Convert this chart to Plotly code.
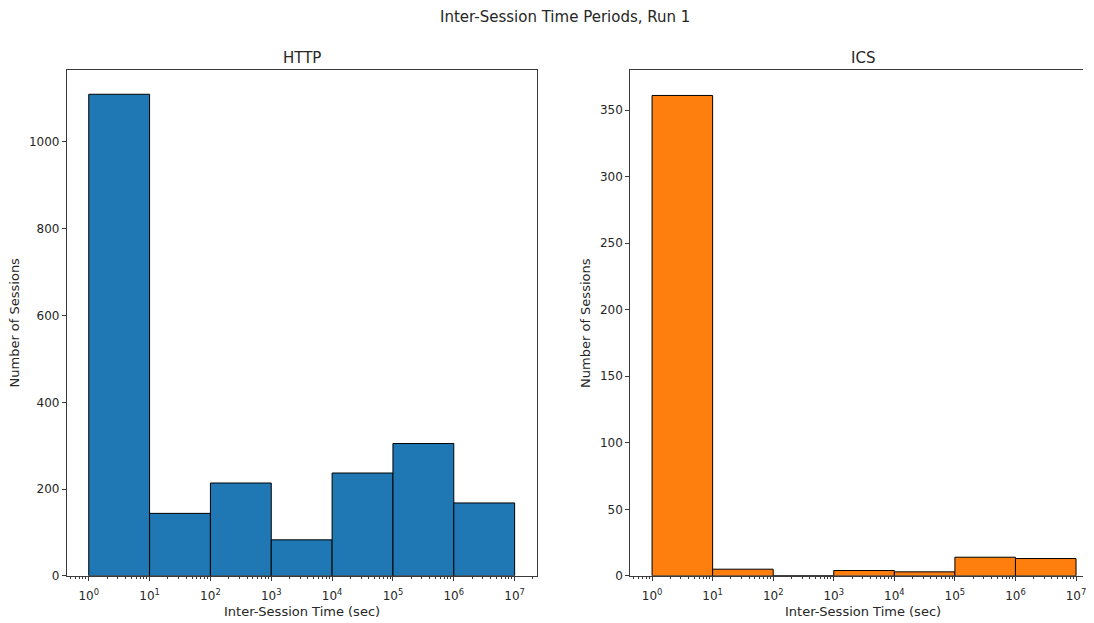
import plotly.graph_objects as go

# ---- data ----
bin_exponents = [0, 1, 2, 3, 4, 5, 6, 7]          # bin edges are 10**n
http_counts = [1110, 144, 214, 83, 237, 305, 168]
ics_counts = [361, 5, 0, 4, 3, 14, 13]
xtick_exponents = [0, 1, 2, 3, 4, 5, 6, 7]
http_yticks = [0, 200, 400, 600, 800, 1000]
ics_yticks = [0, 50, 100, 150, 200, 250, 300, 350]

# layout geometry (window pixels of the target picture)
OFF = 8                      # page body margin
WIN_W = 1094
CANVAS_H = 631               # effective page height that ends up as 623 px
SY = 623.0 / CANVAS_H
W, H = WIN_W - 2 * OFF, CANVAS_H - 2 * OFF
FONT = "DejaVu Sans"
TXT = "#262626"
SPINE = "#3a3a3a"

def fx(x):
    return (x - OFF) / W

def fy(y):
    return 1 - (y / SY - OFF) / H

edges = [10.0 ** e for e in bin_exponents]

fig = go.Figure()

def add_hist(counts, color, xa, ya):
    for i, c in enumerate(counts):
        lo, hi = edges[i], edges[i + 1]
        fig.add_trace(go.Scatter(
            x=[lo, lo, hi, hi, lo], y=[0, c, c, 0, 0],
            mode="lines", fill="toself", fillcolor=color,
            line=dict(color="black", width=1),
            xaxis=xa, yaxis=ya, showlegend=False, hoverinfo="skip"))

add_hist(http_counts, "#1f77b4", "x", "y")
add_hist(ics_counts, "#ff7f0e", "x2", "y2")

ydom = [fy(575), fy(70)]
xdom1 = [fx(67), fx(538)]
xdom2 = [fx(632), 1.0]

minor_vals = [k * 10.0 ** n for n in range(-1, 8) for k in range(2, 10)]
tickvals = [10.0 ** e for e in xtick_exponents]
ticktext = ["10<sup>%d</sup>" % e for e in xtick_exponents]

TICK_SIZE = 12

def xaxis_cfg(domain, rng, anchor):
    return dict(
        type="log", domain=domain, range=rng, anchor=anchor,
        tickmode="array", tickvals=tickvals, ticktext=ticktext,
        ticks="outside", ticklen=4, tickwidth=1, tickcolor=SPINE,
        ticklabeloverflow="allow", ticklabelstandoff=5,
        minor=dict(tickmode="array", tickvals=minor_vals, ticks="outside",
                   ticklen=2, tickwidth=1, tickcolor=SPINE, showgrid=False),
        showline=True, linecolor=SPINE, linewidth=1, mirror=True,
        showgrid=False, zeroline=False,
        tickfont=dict(family=FONT, size=TICK_SIZE, color=TXT))

def yaxis_cfg(rng, tv, anchor, mirror):
    return dict(
        domain=ydom, range=rng, anchor=anchor,
        tickmode="array", tickvals=tv,
        ticks="outside", ticklen=4, tickwidth=1, tickcolor=SPINE,
        showline=True, linecolor=SPINE, linewidth=1, mirror=mirror,
        showgrid=False, zeroline=False,
        tickfont=dict(family=FONT, size=TICK_SIZE, color=TXT))

# right axis is cut at the figure edge: 10^7 sits at ~1079 px (window)
dec = (516 - 90) / 7.0
right_hi = 7 + (WIN_W - OFF - 1079) / dec

fig.update_layout(
    width=W, height=H,
    margin=dict(l=0, r=0, t=0, b=0),
    paper_bgcolor="white", plot_bgcolor="white",
    xaxis=xaxis_cfg(xdom1, [-0.36, 7.36], "y"),
    yaxis=yaxis_cfg([0, 1165.5], http_yticks, "x", True),
    xaxis2=xaxis_cfg(xdom2, [-0.36, right_hi], "y2"),
    yaxis2=yaxis_cfg([0, 380], ics_yticks, "x2", False),
    showlegend=False,
)

def ann(text, x, y, size=13, angle=0):
    fig.add_annotation(text=text, x=fx(x), y=fy(y), xref="paper", yref="paper",
                       showarrow=False, textangle=angle,
                       font=dict(family=FONT, size=size, color=TXT),
                       xanchor="center", yanchor="middle")

ann("Inter-Session Time Periods, Run 1", 567, 17, size=15)
ann("HTTP", 302.5, 58, size=15)
ann("ICS", 865, 58, size=15)
ann("Number of Sessions", 15, 322, angle=-90)
ann("Number of Sessions", 587, 322, angle=-90)
ann("Inter-Session Time (sec)", 302.5, 611)
ann("Inter-Session Time (sec)", 865, 611)

fig.write_html("out.html")
